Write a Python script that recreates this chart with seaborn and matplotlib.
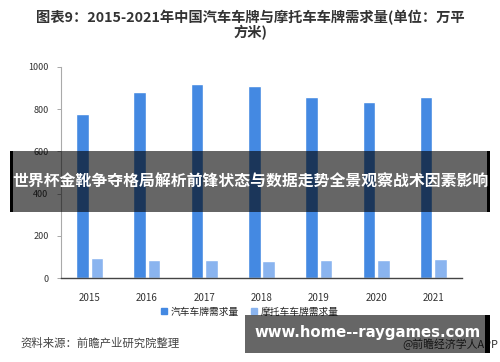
import matplotlib
matplotlib.use("Agg")
import matplotlib.pyplot as plt
import seaborn as sns
import pandas as pd
from matplotlib.patches import Rectangle

years = ["2015", "2016", "2017", "2018", "2019", "2020", "2021"]
car_demand = [777, 881, 918, 910, 856, 836, 859]
moto_demand = [96, 87, 87, 79, 87, 87, 90]
series_names = ["汽车车牌需求量", "摩托车车牌需求量"]
yticks = [0, 200, 400, 600, 800, 1000]

sns.set_theme(style="white")
plt.rcParams['font.family'] = ['Noto Sans CJK SC', 'DejaVu Sans']

df = pd.DataFrame({
    "year": years * 2,
    "value": car_demand + moto_demand,
    "series": [series_names[0]] * len(years) + [series_names[1]] * len(years),
})

fig = plt.figure(figsize=(5.0, 3.62), dpi=100)
ax = fig.add_axes([0.122, 0.232, 0.802, 0.583])
palette = {series_names[0]: "#4489E2", series_names[1]: "#8AB4EF"}
sns.barplot(data=df, x="year", y="value", hue="series", palette=palette,
            width=0.5, gap=0.12, ax=ax, legend=False, saturation=1)

ax.set_ylim(0, 1000)
ax.set_yticks(yticks)
ax.set_yticklabels([str(t) for t in yticks], fontsize=6.5, color="#333333")
ax.tick_params(axis="y", which="major", left=True, length=3, width=0.6, color="#999999", pad=6)
ax.tick_params(axis="x", labelsize=7, colors="#333333", bottom=False, pad=5)
ax.set_xlabel("")
ax.set_ylabel("")
for s in ["top", "right"]:
    ax.spines[s].set_visible(False)
ax.spines["left"].set_color("#aaaaaa")
ax.spines["left"].set_linewidth(0.8)
ax.spines["bottom"].set_color("#444444")
ax.spines["bottom"].set_linewidth(1.0)

# legend
handles = [Rectangle((0, 0), 1, 1, color=palette[n]) for n in series_names]
fig.legend(handles, series_names, loc="center", bbox_to_anchor=(0.5, 0.139),
           ncol=2, frameon=False, fontsize=7, handlelength=0.6, handleheight=0.6,
           handletextpad=0.4, columnspacing=1.3)

# title
fig.text(0.5, 0.952, "图表9：2015-2021年中国汽车车牌与摩托车车牌需求量(单位：万平",
         ha="center", va="center", fontsize=10.3, fontweight="bold", color="#333333")
fig.text(0.5, 0.909, "方米)", ha="center", va="center", fontsize=10.3,
         fontweight="bold", color="#333333")

# source
fig.text(0.04, 0.052, "资料来源：前瞻产业研究院整理", ha="left", va="center",
         fontsize=8.2, color="#444444")
fig.text(0.996, 1 - 344 / 362, "@前瞻经济学人APP", ha="right", va="center",
         fontsize=7.8, color="#333333")

# overlay banner 1
fig.patches.append(Rectangle((0.02, 1 - 212 / 362), 0.96, 61 / 362, transform=fig.transFigure,
                             facecolor="black", alpha=0.6, edgecolor="none", zorder=10))
fig.patches.append(Rectangle((0.02, 1 - 212 / 362), 0.006, 61 / 362, transform=fig.transFigure,
                             facecolor="black", edgecolor="none", zorder=11))
fig.patches.append(Rectangle((0.974, 1 - 212 / 362), 0.006, 61 / 362, transform=fig.transFigure,
                             facecolor="black", edgecolor="none", zorder=11))
fig.text(0.5, 1 - 182 / 362, "世界杯金靴争夺格局解析前锋状态与数据走势全景观察战术因素影响",
         ha="center", va="center", fontsize=11.4, fontweight="bold", color="white", zorder=12)

# overlay banner 2
fig.patches.append(Rectangle((0.49, 1 - 353 / 362), 0.48, 38 / 362, transform=fig.transFigure,
                             facecolor="black", alpha=0.6, edgecolor="none", zorder=10))
fig.patches.append(Rectangle((0.97, 1 - 353 / 362), 0.01, 38 / 362, transform=fig.transFigure,
                             facecolor="black", edgecolor="none", zorder=11))
fig.text(0.735, 1 - 332 / 362, "www.home--raygames.com", ha="center", va="center",
         fontsize=10.7, fontweight="bold", color="white", family="DejaVu Sans", zorder=12)

fig.savefig("out.png", dpi=100)
